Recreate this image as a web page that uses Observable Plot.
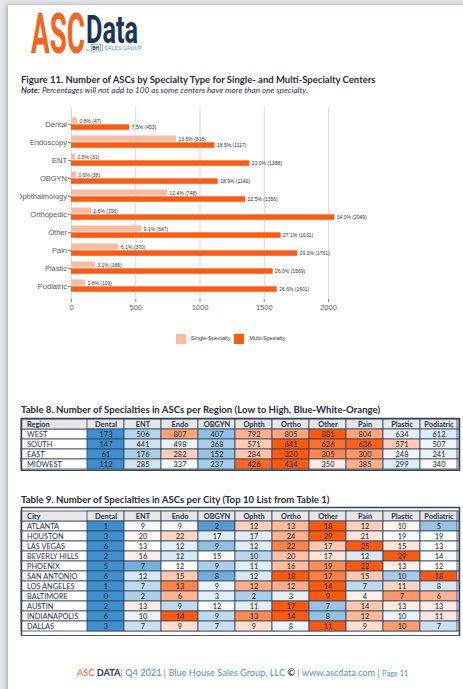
<!DOCTYPE html>
<html><head><meta charset="utf-8">
<script src="https://cdn.jsdelivr.net/npm/d3@7"></script>
<script src="https://cdn.jsdelivr.net/npm/@observablehq/plot@0.6"></script>
<style>
html,body{margin:0;padding:0;}
body{width:463px;height:689px;position:relative;overflow:hidden;background:#e6e7ec;font-family:Lato,sans-serif;}
#page{position:absolute;left:8px;top:5px;width:470px;height:700px;background:#fff;box-shadow:-2px -1px 4px rgba(0,0,0,0.22);}
.abs{position:absolute;white-space:nowrap;line-height:1;}
.lg-swatch{margin-right:4px!important;}
.lg-swatch svg{margin-right:5px!important;}
</style></head>
<body>
<div id="page"></div>
<svg class="abs" style="left:0;top:0" width="200" height="62">
  <text x="31" y="52.5" textLength="54" lengthAdjust="spacingAndGlyphs" font-family="Roboto" font-weight="700" font-size="55" fill="#f26522">ASC</text>
  <text x="86" y="42.5" textLength="52" lengthAdjust="spacingAndGlyphs" font-family="Roboto" font-weight="700" font-size="38" fill="#1c3557">Data</text>
</svg>
<svg class="abs" style="left:86px;top:43px" width="60" height="10">
  <text x="0.5" y="7.5" font-family="Roboto" font-size="3" fill="#777">by</text>
  <rect x="5.5" y="1.5" width="9" height="6.5" fill="#fff" stroke="#1c3557" stroke-width="0.4"/>
  <text x="6.2" y="6.8" font-family="Roboto" font-weight="700" font-size="5.3" fill="#1c3557">BH</text>
  <line x1="16.5" y1="1" x2="16.5" y2="8.5" stroke="#5b9bd5" stroke-width="0.7"/>
  <text x="18.5" y="7.4" font-family="Roboto" font-size="5.8" fill="#5b9bd5">SALES GROUP</text>
</svg>
<div class="abs" style="left:21px;top:75px;font-size:9.5px;font-weight:700;color:#1f2b3e;">Figure 11. Number of ASCs by Specialty Type for Single- and Multi-Specialty Centers</div>
<div class="abs" style="left:21px;top:86px;font-size:8.2px;font-style:italic;color:#2b3347;"><b>Note:</b> Percentages will not add to 100 as some centers have more than one specialty.</div>
<div id="chart" class="abs" style="left:20px;top:105px;width:443px;"></div>
<div id="legend" class="abs" style="left:176px;top:322.5px;"></div>
<div class="abs" style="left:21px;top:404.5px;font-size:9.6px;font-weight:700;color:#1f2b3e;">Table 8. Number of Specialties in ASCs per Region (Low to High, Blue-White-Orange)</div>
<div id="t8" class="abs" style="left:19px;top:417px;width:442px;"></div>
<div class="abs" style="left:21px;top:494.5px;font-size:9.6px;font-weight:700;color:#1f2b3e;">Table 9. Number of Specialties in ASCs per City (Top 10 List from Table 1)</div>
<div id="t9" class="abs" style="left:19px;top:505.5px;width:442px;"></div>
<div class="abs" style="left:77px;top:668px;font-size:9.2px;color:#4f8fc8;">
<span style="color:#f26522">ASC</span> <b style="color:#1f3864">DATA</b><span style="color:#f26522">|</span> Q4 2021 <span style="color:#f26522">|</span> Blue House Sales Group, LLC <b style="color:#444">©</b> <span style="color:#f26522">|</span> www.ascdata.com <span style="color:#f26522">|</span> <span style="font-size:7.4px">Page 11</span></div>
<script>
// ---- Figure 11 data ----
const specialties = ["Dental","Endoscopy","ENT","OBGYN","Ophthalmology","Orthopedic","Other","Pain","Plastic","Podiatric"];
const singleCounts = [47,818,31,38,748,156,547,370,185,109];
const singlePct = [0.8,13.6,0.5,0.6,12.4,2.6,9.1,6.1,3.1,1.8];
const multiCounts = [453,1117,1388,1142,1356,2049,1631,1761,1569,1601];
const multiPct = [7.5,18.5,23.0,18.9,22.5,34.0,27.1,29.2,26.0,26.6];
const xTicks = [0,500,1000,1500,2000];
const seriesNames = ["Single-Specialty","Multi-Specialty"];

// ---- Table data ----
const columns = ["Dental","ENT","Endo","OBGYN","Ophth","Ortho","Other","Pain","Plastic","Podiatric"];
const regions = ["WEST","SOUTH","EAST","MIDWEST"];
const west = [173,506,807,407,792,805,881,804,634,612];
const south = [147,441,498,368,571,641,626,636,571,507];
const east = [61,176,282,152,284,320,305,300,248,241];
const midwest = [112,285,337,237,426,434,350,385,299,340];
const cities = ["ATLANTA","HOUSTON","LAS VEGAS","BEVERLY HILLS","PHOENIX","SAN ANTONIO","LOS ANGELES","BALTIMORE","AUSTIN","INDIANAPOLIS","DALLAS"];
const atlanta = [1,9,9,2,12,13,18,12,10,5];
const houston = [3,20,22,17,17,24,29,21,19,19];
const lasVegas = [6,13,12,9,12,22,17,25,15,13];
const beverlyHills = [2,16,12,15,10,20,17,12,29,14];
const phoenix = [5,7,12,9,11,16,19,22,13,12];
const sanAntonio = [6,12,15,8,12,18,17,15,10,18];
const losAngeles = [1,7,13,9,12,12,14,7,11,8];
const baltimore = [0,2,6,3,2,3,9,4,7,6];
const austin = [2,13,9,12,11,17,7,14,13,13];
const indianapolis = [6,10,14,9,13,14,8,12,10,11];
const dallas = [3,7,9,7,9,8,11,9,10,7];

const lightColor = "#fcbba1", darkColor = "#fe5a12";
const blue = "#3d90cd", orange = "#fe5a0e", navy = "#1f2d4e", line = "#34425e", headBg = "#e7e7e7";

const single = specialties.map((s,i)=>({cat:s, count:singleCounts[i], pct:singlePct[i]}));
const multi = specialties.map((s,i)=>({cat:s, count:multiCounts[i], pct:multiPct[i]}));
const lab = d => `${d.pct.toFixed(1)}% (${d.count})`;

const chart = Plot.plot({
  width: 443, height: 209,
  marginLeft: 51, marginRight: 135, marginTop: 2, marginBottom: 15,
  style: {fontFamily: "'Liberation Sans', Arial, sans-serif", fontSize: "7.5px", color: "#595959", background: "transparent"},
  x: {domain: [0, 2000], label: null},
  y: {domain: specialties, padding: 0, insetTop: 3, label: null},
  marks: [
    Plot.gridX(xTicks, {stroke: "#cfcfcf", strokeOpacity: 1, strokeWidth: 0.8}),
    Plot.barX(single, {x: "count", y: "cat", fill: lightColor, insetTop: 2.5, insetBottom: 9.6}),
    Plot.barX(multi, {x: "count", y: "cat", fill: darkColor, insetTop: 9.3, insetBottom: 3.2}),
    Plot.text(single, {x: "count", y: "cat", text: lab, dx: 2, dy: -3.5, textAnchor: "start", fontSize: 5, fill: "#333"}),
    Plot.text(multi, {x: "count", y: "cat", text: lab, dx: 2, dy: 3.1, textAnchor: "start", fontSize: 5, fill: "#333"}),
    Plot.axisX(xTicks, {tickSize: 3, tickPadding: 2, fontSize: 7.5, label: null, stroke: "#888", tickFormat: d => String(d)}),
    Plot.axisY({tickSize: 3, tickPadding: 1.5, fontSize: 7.5, label: null, stroke: "#888"})
  ]
});
document.getElementById("chart").append(chart);

const leg = Plot.legend({
  color: {type: "ordinal", domain: seriesNames, range: [lightColor, darkColor]},
  swatchSize: 10, className: "lg",
  style: {fontFamily: "'Liberation Sans', Arial, sans-serif", fontSize: "5.5px", color: "#333"}
});
document.getElementById("legend").append(leg);

function normRow(vals) {
  const mn = d3.min(vals), mx = d3.max(vals), md = d3.median(vals);
  return vals.map(v => v >= md ? (mx > md ? (v - md) / (mx - md) : 0) : (v - md) / (md - mn));
}

function heatTable(headerLabel, rowNames, rowValues, rowH) {
  const ydom = [headerLabel, ...rowNames];
  const cells = rowNames.flatMap((r, i) => {
    const t = normRow(rowValues[i]);
    return columns.map((c, j) => ({row: r, col: c, value: rowValues[i][j], t: t[j]}));
  });
  return Plot.plot({
    width: 442, height: 2 + ydom.length * rowH,
    marginLeft: 65, marginRight: 2, marginTop: 1, marginBottom: 1,
    style: {fontFamily: "Lato, sans-serif", background: "transparent"},
    x: {domain: columns, padding: 0, axis: null},
    y: {domain: ydom, padding: 0, axis: null},
    color: {type: "linear", domain: [-1, 0, 1], range: [blue, "#ffffff", orange]},
    marks: [
      Plot.cell(rowNames, {y: d => d, fill: "#fff", stroke: line, strokeWidth: 0.8, insetLeft: -63}),
      Plot.cell([headerLabel], {y: d => d, fill: headBg, stroke: line, strokeWidth: 0.8, insetLeft: -63}),
      Plot.cell(columns, {x: d => d, y: () => headerLabel, fill: headBg, stroke: line, strokeWidth: 0.8}),
      Plot.cell(cells, {x: "col", y: "row", fill: "t", stroke: line, strokeWidth: 0.8}),
      Plot.text(cells, {x: "col", y: "row", text: "value", fill: "#222", fontSize: 7.4}),
      Plot.text(columns, {x: d => d, y: () => headerLabel, text: d => d, fill: navy, fontSize: 7.4, fontWeight: "bold"}),
      Plot.text([headerLabel], {y: d => d, text: d => d, frameAnchor: "left", textAnchor: "start", dx: -57.5, fill: navy, fontSize: 7.4, fontWeight: "bold"}),
      Plot.text(rowNames, {y: d => d, text: d => d, frameAnchor: "left", textAnchor: "start", dx: -57.5, fill: navy, fontSize: 7.4}),
      Plot.frame({stroke: line, strokeWidth: 1.5, insetLeft: -63})
    ]
  });
}

document.getElementById("t8").append(heatTable("Region", regions, [west, south, east, midwest], 10.4));
document.getElementById("t9").append(heatTable("City", cities,
  [atlanta, houston, lasVegas, beverlyHills, phoenix, sanAntonio, losAngeles, baltimore, austin, indianapolis, dallas], 10.7));
</script>
</body></html>
